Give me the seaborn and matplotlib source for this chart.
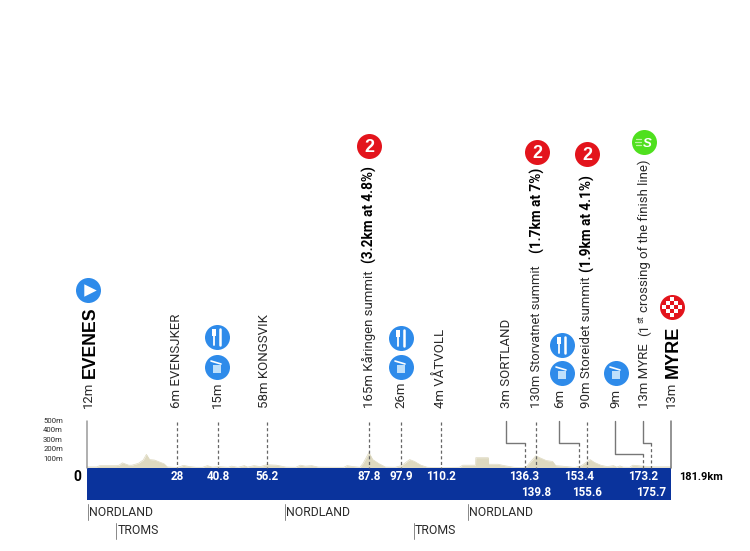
import matplotlib
matplotlib.use("Agg")
import matplotlib.pyplot as plt
import seaborn as sns
import pandas as pd

profile_km = [0, 3, 4, 9, 10, 11, 13, 14, 16, 17.5, 18.5, 19.5, 21, 24, 25, 28, 29, 30, 32, 34, 36, 37.5, 39, 41, 44, 45, 47, 49, 50, 52, 54, 56, 59, 62, 65, 66.5, 68, 70, 72, 78, 80, 81, 83, 85, 86, 87.8, 89, 91, 93, 96, 98, 100.5, 102, 104, 106, 110, 112, 116, 117, 121, 121.1, 125, 125.1, 128, 130, 133, 136, 137, 138, 139.8, 141, 143, 145, 146, 148, 152, 154, 156.7, 158, 160, 162, 164, 165, 166, 167, 169, 170, 173, 176, 181.9]
profile_m = [12, 12, 25, 25, 30, 55, 30, 30, 50, 85, 145, 90, 85, 45, 12, 6, 15, 28, 15, 8, 8, 25, 10, 15, 8, 20, 8, 25, 10, 25, 15, 35, 30, 10, 8, 30, 20, 25, 10, 8, 8, 25, 15, 8, 50, 165, 90, 45, 10, 8, 26, 90, 70, 30, 8, 4, 6, 8, 30, 30, 110, 110, 40, 40, 25, 8, 3, 20, 60, 130, 110, 80, 70, 25, 20, 6, 25, 90, 60, 30, 15, 25, 10, 22, 10, 8, 30, 20, 13, 13]

scale_labels = ["500m", "400m", "300m", "200m", "100m"]
scale_values = [500, 400, 300, 200, 100]

top_km = [28, 40.8, 56.2, 87.8, 97.9, 110.2, 136.3, 153.4, 173.2]
top_km_labels = ["28", "40.8", "56.2", "87.8", "97.9", "110.2", "136.3", "153.4", "173.2"]
low_km = [139.8, 155.6, 175.7]
low_km_labels = ["139.8", "155.6", "175.7"]
total_km = 181.9

regions = ["NORDLAND", "TROMS", "NORDLAND", "TROMS", "NORDLAND"]
region_km = [0.3, 9.0, 61.7, 101.8, 118.7]
region_row = [0, 1, 0, 1, 0]

INK = "#2a2a2a"
BLUE = "#0A339C"
ICON = "#2E8BEA"
RED = "#E3141C"
GREEN = "#4FE01E"
SAND = "#DED9C0"

sns.set_theme(style="white")
plt.rcParams["font.family"] = ["Roboto", "DejaVu Sans"]
HEAVY = ["Liberation Sans", "DejaVu Sans"]

W, H = 750, 551
fig = plt.figure(figsize=(W / 100, H / 100), dpi=100, facecolor="white")
ax = fig.add_axes([0, 0, 1, 1])
PXKM = 584 / total_km
PXM = 0.094
X0, Y0 = 87, 468
ax.set_xlim(-X0 / PXKM, (W - X0) / PXKM)
ax.set_ylim(-(H - Y0) / PXM, Y0 / PXM)
ax.axis("off")

def X(px):
    return (px - X0) / PXKM

def Y(py):
    return (Y0 - py) / PXM

df = pd.DataFrame({"km": profile_km, "m": profile_m})
ax.fill_between(df["km"], df["m"], 0, color=SAND, lw=0, zorder=1)
sns.lineplot(data=df, x="km", y="m", ax=ax, color=SAND, lw=0.5, legend=False, zorder=1)
ax.set_xlabel("")
ax.set_ylabel("")

ax.fill_between([0, total_km], Y(500), 0, color=BLUE, lw=0, zorder=2)
ax.plot([0, 0], [0, 500], color="#9a9a9a", lw=1.1, zorder=3)
ax.plot([total_km, total_km], [0, 500], color="#777777", lw=1.1, zorder=3)

for lab, v in zip(scale_labels, scale_values):
    ax.text(X(63), v, lab, ha="right", va="center", fontsize=5.6, color=INK)
ax.text(X(81), Y(477), "0", ha="right", va="center", fontsize=10, color="black", fontweight="bold")
ax.text(X(679), Y(477.5), f"{total_km}km", ha="left", va="center", fontsize=7.9, color="black", fontweight="bold")

for k, lab in zip(top_km, top_km_labels):
    ax.text(k, Y(476.5), lab, ha="center", va="center", fontsize=8.4, color="white", fontweight="bold", zorder=4)
for k, lab in zip(low_km, low_km_labels):
    ax.text(k, Y(493), lab, ha="center", va="center", fontsize=8.4, color="white", fontweight="bold", zorder=4)

for k, top in [(28, 422), (40.8, 422), (56.2, 422), (87.8, 422), (97.9, 422), (110.2, 422),
               (139.8, 422), (155.6, 422), (136.3, 443), (153.4, 443), (173.2, 454), (175.7, 443)]:
    ax.plot([k, k], [Y(top), 0], color="#666666", lw=0.9, ls=(0, (2.5, 2)), zorder=3)

for kx, px0, py in [(136.3, 506, 443), (153.4, 559, 443), (173.2, 615, 454), (175.7, 643, 443)]:
    ax.plot([X(px0), X(px0), kx], [Y(421), Y(py), Y(py)], color="#777777", lw=1.0, zorder=3)

for name, k, row in zip(regions, region_km, region_row):
    py = 512 + 19 * row
    ax.plot([k, k], [Y(py - 8), Y(py + 8)], color="#888888", lw=0.7)
    ax.text(k + 0.4, Y(py), name, ha="left", va="center", fontsize=8.8, color=INK)

BOT = 408
def vt(px, py, s, bold=False, size=9.5, **kw):
    ax.text(X(px), Y(py), s, rotation=90, ha="center", va="bottom",
            fontsize=size, color="black" if bold else INK,
            fontweight="bold" if bold else "normal", zorder=5, **kw)

vt(88, BOT, "12m")
ax.text(X(90), Y(378), "EVENES", rotation=90, ha="center", va="bottom", fontsize=12.7,
        family=HEAVY, fontweight="bold", color="black")
vt(177, BOT, "6m EVENSJKER")
vt(217, BOT, "15m")
vt(265, BOT, "58m KONGSVIK")
vt(369, BOT, "165m Kåringen summit")
vt(369, 263, "(3.2km at 4.8%)", bold=True, size=9.8)
vt(401, BOT, "26m")
vt(440, BOT, "4m VÅTVOLL")
vt(506, BOT, "3m SORTLAND")
vt(537, BOT, "130m Storvatnet summit", size=9.3)
vt(537, 253, "(1.7km at 7%)", bold=True, size=9.8)
vt(560, BOT, "6m")
vt(587, BOT, "90m Storeidet summit")
vt(587, 272, "(1.9km at 4.1%)", bold=True, size=9.8)
vt(616, BOT, "9m")
vt(644, BOT, "13m MYRE")
vt(644, 336, "(1")
ax.text(X(641), Y(323), "st", rotation=90, ha="center", va="bottom", fontsize=6.5, color=INK)
vt(644, 312, "crossing of the finish line)")
vt(671, BOT, "13m")
ax.text(X(673), Y(378), "MYRE", rotation=90, ha="center", va="bottom", fontsize=13,
        family=HEAVY, fontweight="bold", color="black")

def disc(px, py, color, d=25):
    ax.scatter([X(px)], [Y(py)], s=(d * 0.72) ** 2, color=color, lw=0, zorder=6)

def trash(px, py):
    disc(px, py, ICON)
    ax.scatter([X(px)], [Y(py + 1.5)], s=34, marker="s", color="#BFE0FB", lw=0, zorder=7)
    ax.plot([X(px - 6), X(px + 4)], [Y(py - 6), Y(py - 3)], color="white", lw=1.2, zorder=7)

def cutlery(px, py):
    disc(px, py, ICON)
    ax.plot([X(px - 3.5), X(px - 3.5)], [Y(py - 1), Y(py + 8)], color="white", lw=1.3, zorder=7)
    ax.fill_between([X(px - 5.5), X(px - 1.5)], Y(py - 8), Y(py - 1), color="white", lw=0, zorder=7)
    ax.plot([X(px + 3), X(px + 3)], [Y(py - 8), Y(py + 8)], color="white", lw=1.8, zorder=7)

for px, py in [(217, 367), (401, 367), (562, 373), (616, 373)]:
    trash(px, py)
for px, py in [(217, 337), (401, 338), (562, 345)]:
    cutlery(px, py)

disc(88, 290, ICON)
ax.scatter([X(89.5)], [Y(290)], s=80, marker=">", color="white", lw=0, zorder=7)

for px, py in [(369, 146), (537, 152), (587, 154)]:
    disc(px, py, RED)
    ax.text(X(px), Y(py), "2", ha="center", va="center_baseline", fontsize=13, color="white",
            fontweight="bold", family=HEAVY, zorder=7)

disc(644, 142, GREEN)
ax.text(X(647), Y(142.5), "S", ha="center", va="center_baseline", fontsize=9.5, color="white",
        fontweight="bold", style="italic", family=HEAVY, zorder=7)
for dy, x0 in zip((-3, 0, 3), (636, 635, 636)):
    ax.plot([X(x0), X(641)], [Y(142 + dy), Y(142 + dy)], color="#BDF5A0", lw=0.9, zorder=7)

disc(672, 307, RED)
for dx in range(-8, 9, 4):
    for dy in range(-8, 9, 4):
        if (dx + dy) % 8 == 0 and dx * dx + dy * dy <= 80:
            ax.scatter([X(672 + dx)], [Y(307 + dy)], s=9, marker="s", color="white", lw=0, zorder=7)

fig.savefig("out.png", dpi=100, facecolor="white")
